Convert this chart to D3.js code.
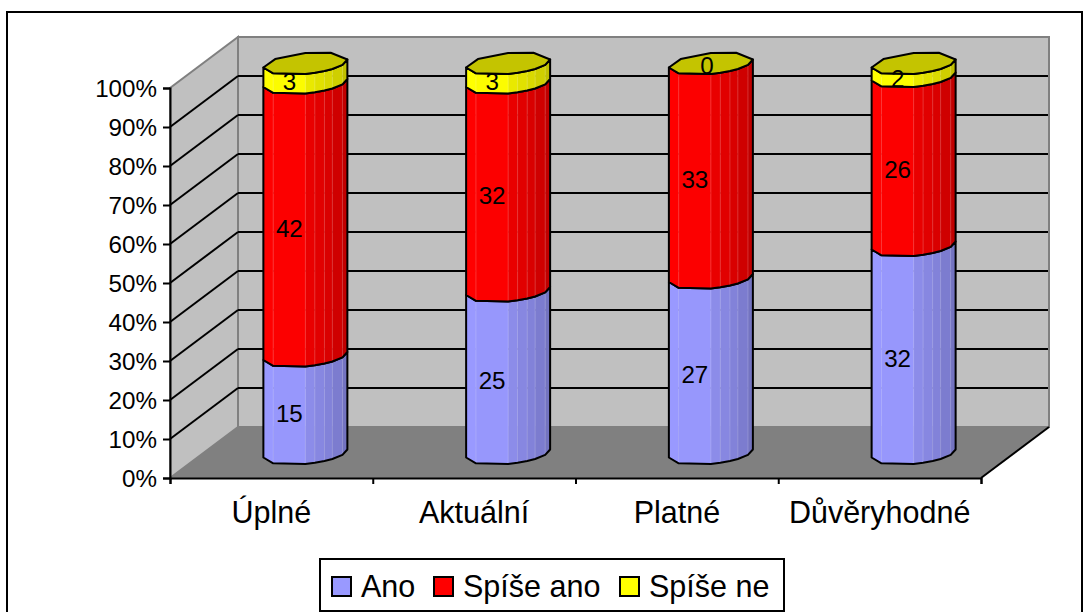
<!DOCTYPE html>
<html>
<head>
<meta charset="utf-8">
<script src="https://cdn.jsdelivr.net/npm/d3@7"></script>
<style>
  body { margin: 0; background: white; }
  text { font-family: "Liberation Sans", Arial, sans-serif; fill: black; }
</style>
</head>
<body>
<div id="chart"></div>
<script>
// data
const categories = ["Úplné", "Aktuální", "Platné", "Důvěryhodné"];
const seriesNames = ["Ano", "Spíše ano", "Spíše ne"];
const ano = [15, 25, 27, 32];
const spiseAno = [42, 32, 33, 26];
const spiseNe = [3, 3, 0, 2];
const seriesColors = ["#9999ff", "#ff0000", "#ffff00"];
const percentTicks = [0, 0.1, 0.2, 0.3, 0.4, 0.5, 0.6, 0.7, 0.8, 0.9, 1];

const width = 1089, height = 612;
const depth = { x: 68, y: -51 };
const plot = { left: 170, right: 981, bottom: 478, top: 88 };
const radius = 42, ellipseB = 10.5, ellipseShear = -4;

const svg = d3.select("#chart").append("svg")
    .attr("width", width)
    .attr("height", height)
    .style("display", "block");

const x = d3.scaleBand().domain(categories).range([plot.left, plot.right]);
const xEdges = d3.scaleLinear().domain([0, categories.length]).range([plot.left, plot.right]);
const y = d3.scaleLinear().domain([0, 1]).range([plot.bottom, plot.top]);

const rows = categories.map((c, i) => ({ category: c, Ano: ano[i], "Spíše ano": spiseAno[i], "Spíše ne": spiseNe[i] }));
const stacked = d3.stack().keys(seriesNames).offset(d3.stackOffsetExpand)(rows);

// outer frame, runs off the bottom of the picture
svg.append("rect")
    .attr("x", 7).attr("y", 12)
    .attr("width", 1075).attr("height", 640)
    .attr("fill", "white").attr("stroke", "black").attr("stroke-width", 2);

// walls and floor
const pt = (px, py) => [px, py];
const poly = d3.line();
const walls = svg.append("g");

walls.append("path")
    .attr("d", poly([pt(plot.left, y(0)), pt(plot.left + depth.x, y(0) + depth.y), pt(plot.left + depth.x, y(1) + depth.y), pt(plot.left, y(1))]) + "Z")
    .attr("fill", "#c0c0c0").attr("stroke", "#808080").attr("stroke-width", 2);

walls.append("path")
    .attr("d", poly([pt(plot.left + depth.x, y(0) + depth.y), pt(plot.right + depth.x, y(0) + depth.y), pt(plot.right + depth.x, y(1) + depth.y), pt(plot.left + depth.x, y(1) + depth.y)]) + "Z")
    .attr("fill", "#c0c0c0").attr("stroke", "#808080").attr("stroke-width", 2);

walls.append("path")
    .attr("d", poly([pt(plot.left, y(0)), pt(plot.left + depth.x, y(0) + depth.y), pt(plot.right + depth.x, y(0) + depth.y), pt(plot.right, y(0))]) + "Z")
    .attr("fill", "#808080");

// gridlines on both walls
const inner = percentTicks.slice(1, -1);
walls.selectAll(".grid_back").data(inner).join("line")
    .attr("class", "grid_back")
    .attr("x1", plot.left + depth.x).attr("x2", plot.right + depth.x - 1)
    .attr("y1", d => y(d) + depth.y).attr("y2", d => y(d) + depth.y)
    .attr("stroke", "black").attr("stroke-width", 2);

walls.selectAll(".grid_side").data(inner).join("line")
    .attr("class", "grid_side")
    .attr("x1", plot.left).attr("x2", plot.left + depth.x)
    .attr("y1", d => y(d)).attr("y2", d => y(d) + depth.y)
    .attr("stroke", "black").attr("stroke-width", 2);

walls.append("line")
    .attr("x1", plot.right).attr("y1", y(0))
    .attr("x2", plot.right + depth.x).attr("y2", y(0) + depth.y)
    .attr("stroke", "black").attr("stroke-width", 2);

// axes
const yAxis = svg.append("g")
    .attr("transform", `translate(${plot.left},0)`)
    .call(d3.axisLeft(y).tickValues(percentTicks).tickFormat(d3.format(".0%")).tickSize(7).tickPadding(6));
yAxis.selectAll("text")
    .attr("dy", "0.37em")
    .style("font-size", "24.2px").style("font-family", '"Liberation Sans"');

const xTicks = svg.append("g")
    .attr("transform", `translate(0,${plot.bottom})`)
    .call(d3.axisBottom(xEdges).ticks(categories.length).tickFormat("").tickSize(6));

const xLabels = svg.append("g")
    .attr("transform", `translate(0,${plot.bottom})`)
    .call(d3.axisBottom(x).tickSize(0).tickPadding(23));
xLabels.select(".domain").remove();
xLabels.selectAll("text").style("font-size", "30.5px").style("font-family", '"Liberation Sans"');

[yAxis, xTicks].forEach(a => {
    a.selectAll("path, line").attr("stroke", "black").attr("stroke-width", 2);
});

// cylinder outline as a sheared many-sided ellipse
const frontAngles = [0, 28, 50, 63, 77, 90, 140, 180];
const backAngles = [180, 224, 270, 307, 360];

function rim(cx, cy, deg) {
    const t = deg * Math.PI / 180;
    return [cx + radius * Math.cos(t), cy + ellipseB * Math.sin(t) + ellipseShear * Math.cos(t)];
}

function shade(color, factor) {
    const c = d3.rgb(color);
    return d3.rgb(c.r * factor, c.g * factor, c.b * factor).formatHex();
}

function facetShade(midAngle) {
    return 0.72 + 0.28 * Math.min(1, midAngle / 120);
}

const bars = svg.append("g");
const barCenter = c => x(c) + x.bandwidth() / 2 + depth.x / 2;
const barLevel = v => y(v) + depth.y / 2 + 1;

stacked.forEach((layer, s) => {
    layer.forEach((d, i) => {
        const cx = barCenter(categories[i]);
        const y0 = barLevel(d[0]), y1 = barLevel(d[1]);

        if (d[1] > d[0]) {
            d3.pairs(frontAngles).forEach(([a, b]) => {
                const fill = shade(seriesColors[s], facetShade((a + b) / 2));
                bars.append("path")
                    .attr("d", poly([rim(cx, y0, a), rim(cx, y0, b), rim(cx, y1, b), rim(cx, y1, a)]) + "Z")
                    .attr("fill", fill).attr("stroke", fill).attr("stroke-width", 0.5);
            });
            frontAngles.slice(1, -1).forEach(a => {
                bars.append("line")
                    .attr("x1", rim(cx, y0, a)[0]).attr("y1", rim(cx, y0, a)[1])
                    .attr("x2", rim(cx, y1, a)[0]).attr("y2", rim(cx, y1, a)[1])
                    .attr("stroke", "white").attr("stroke-opacity", 0.18).attr("stroke-width", 1);
            });
            const outline = frontAngles.map(a => rim(cx, y0, a))
                .concat(frontAngles.slice().reverse().map(a => rim(cx, y1, a)));
            bars.append("path")
                .attr("d", poly(outline) + "Z")
                .attr("fill", "none").attr("stroke", "black").attr("stroke-width", 2)
                .attr("stroke-linejoin", "round");
        }

        // only the top series shows its lid
        if (s === stacked.length - 1) {
            const lid = frontAngles.concat(backAngles.slice(1, -1)).map(a => rim(cx, y1, a));
            bars.append("path")
                .attr("d", poly(lid) + "Z")
                .attr("fill", shade(seriesColors[s], 0.77))
                .attr("stroke", "black").attr("stroke-width", 2)
                .attr("stroke-linejoin", "round");
        }
    });
});

// value labels
const labels = svg.append("g");
stacked.forEach((layer, s) => {
    layer.forEach((d, i) => {
        const value = d.data[seriesNames[s]];
        const cx = barCenter(categories[i]);
        const mid = (barLevel(d[0]) + barLevel(d[1])) / 2;
        labels.append("text")
            .attr("x", value === 0 ? cx - 4 : cx - 16)
            .attr("y", value === 0 ? mid + 10 : mid + 17)
            .attr("text-anchor", "middle")
            .style("font-size", "24.2px")
            .text(value);
    });
});

// legend
const legend = svg.append("g");
legend.append("rect")
    .attr("x", 320).attr("y", 559).attr("width", 464).attr("height", 52)
    .attr("fill", "white").attr("stroke", "black").attr("stroke-width", 2);

const legendSwatch = [332, 434, 620];
seriesNames.forEach((name, i) => {
    legend.append("rect")
        .attr("x", legendSwatch[i]).attr("y", 577).attr("width", 19).attr("height", 19)
        .attr("fill", seriesColors[i]).attr("stroke", "black").attr("stroke-width", 2);
    legend.append("text")
        .attr("x", legendSwatch[i] + 29).attr("y", 597)
        .style("font-size", "30.5px")
        .text(name);
});
</script>
</body>
</html>
